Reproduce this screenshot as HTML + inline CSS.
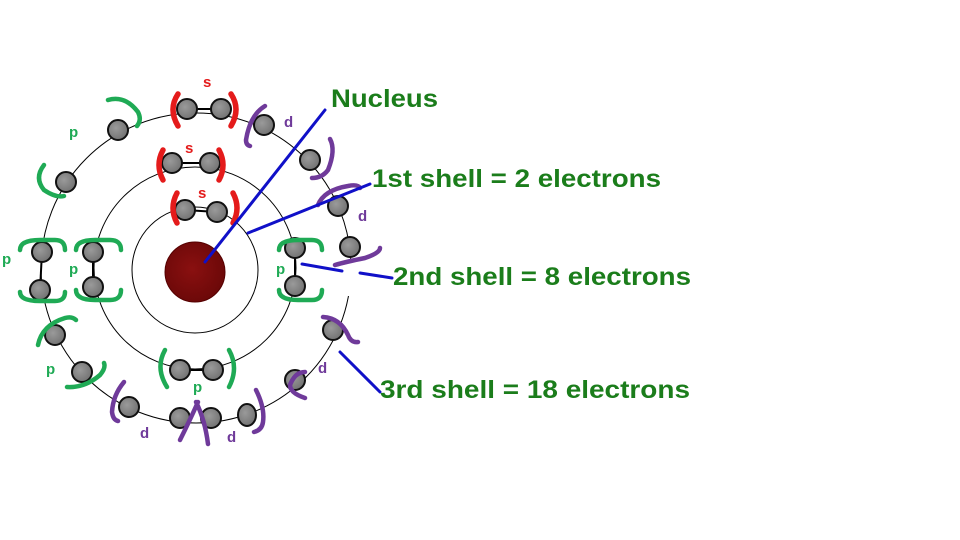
<!DOCTYPE html>
<html><head><style>body{margin:0;background:#fff}svg{display:block}</style></head>
<body>
<svg width="960" height="540" viewBox="0 0 960 540" xmlns="http://www.w3.org/2000/svg">
<defs>
<radialGradient id="g" cx="0.4" cy="0.4" r="0.7"><stop offset="0" stop-color="#9a9a9a"/><stop offset="1" stop-color="#6e6e6e"/></radialGradient>
<radialGradient id="n" cx="0.45" cy="0.45" r="0.6"><stop offset="0" stop-color="#8a1010"/><stop offset="1" stop-color="#6a0808"/></radialGradient>
</defs>
<rect width="960" height="540" fill="#fff"/>
<g fill="none" stroke="#000" stroke-width="1">
<circle cx="195" cy="270" r="63"/>
<circle cx="195" cy="268" r="101"/>
<circle cx="196" cy="268" r="155"/>
</g>
<rect x="338" y="262" width="16" height="34" fill="#fff"/>
<g stroke="#000" stroke-width="2">
<line x1="187" y1="109" x2="221" y2="109"/>
<line x1="172" y1="163" x2="210" y2="163"/>
<line x1="185" y1="210" x2="217" y2="212"/>
<line x1="42" y1="252" x2="40" y2="290"/>
<line x1="93" y1="252" x2="93" y2="287"/>
<line x1="295" y1="248" x2="295" y2="286"/>
<line x1="180" y1="370" x2="213" y2="370"/>
</g>
<circle cx="195" cy="272" r="30" fill="url(#n)" stroke="#500" stroke-width="1"/>
<g fill="url(#g)" stroke="#111" stroke-width="2">
<circle cx="187" cy="109" r="10"/><circle cx="221" cy="109" r="10"/>
<circle cx="264" cy="125" r="10"/><circle cx="310" cy="160" r="10"/>
<circle cx="338" cy="206" r="10"/><circle cx="350" cy="247" r="10"/>
<circle cx="333" cy="330" r="10"/><circle cx="295" cy="380" r="10"/>
<ellipse cx="247" cy="415" rx="9" ry="11"/>
<circle cx="211" cy="418" r="10"/><circle cx="180" cy="418" r="10"/>
<circle cx="129" cy="407" r="10"/><circle cx="82" cy="372" r="10"/>
<circle cx="55" cy="335" r="10"/><circle cx="40" cy="290" r="10"/>
<circle cx="42" cy="252" r="10"/><circle cx="66" cy="182" r="10"/>
<circle cx="118" cy="130" r="10"/>
<circle cx="172" cy="163" r="10"/><circle cx="210" cy="163" r="10"/>
<circle cx="93" cy="252" r="10"/><circle cx="93" cy="287" r="10"/>
<circle cx="295" cy="248" r="10"/><circle cx="295" cy="286" r="10"/>
<circle cx="180" cy="370" r="10"/><circle cx="213" cy="370" r="10"/>
<circle cx="185" cy="210" r="10"/><circle cx="217" cy="212" r="10"/>
</g>
<g fill="none" stroke="#e41b1b" stroke-width="5.5" stroke-linecap="round">
<path d="M178 94 Q168 109 178 126"/><path d="M231 94 Q241 109 231 126"/>
<path d="M163 150 Q155 165 163 180"/><path d="M219 150 Q227 165 219 180"/>
<path d="M177 193 Q169 208 177 223"/><path d="M233 193 Q241 208 233 223"/>
</g>
<g fill="none" stroke="#1faa55" stroke-width="4.5" stroke-linecap="round">
<path d="M108 100 Q125 95 138 112 Q142 120 137 126"/>
<path d="M44 165 Q34 178 44 190 Q56 198 64 196"/>
<path d="M20 250 Q20 240 40 240 L55 240 Q65 240 65 250"/>
<path d="M20 292 Q20 301 40 301 L55 301 Q65 301 65 292"/>
<path d="M76 250 Q76 240 95 240 L110 240 Q121 240 121 250"/>
<path d="M76 290 Q76 300 95 300 L110 300 Q121 300 121 290"/>
<path d="M279 250 Q279 240 298 240 L312 240 Q322 240 322 250"/>
<path d="M279 290 Q279 300 298 300 L312 300 Q322 300 322 290"/>
<path d="M38 345 Q42 325 65 318 Q72 316 76 320"/>
<path d="M67 387 Q85 388 100 375 Q106 368 104 363"/>
<path d="M165 350 Q155 368 167 387"/><path d="M229 350 Q239 368 229 387"/>
</g>
<g fill="none" stroke="#6f3a9a" stroke-width="4.5" stroke-linecap="round">
<path d="M265 106 Q250 115 246 140 Q246 145 250 146"/>
<path d="M330 139 Q336 150 328 170 Q322 178 312 178"/>
<path d="M318 205 Q324 190 348 186 Q358 184 360 188"/>
<path d="M335 265 Q345 262 365 258 Q380 253 380 248"/>
<path d="M323 317 Q340 318 348 335 Q351 343 358 342"/>
<path d="M305 372 Q295 372 290 385 Q290 393 305 398"/>
<path d="M124 382 Q113 395 112 412 Q113 420 118 421"/>
<path d="M198 402 Q190 420 180 440"/>
<path d="M196 402 Q205 420 208 444"/>
<path d="M256 390 Q265 408 263 422 Q262 430 254 432"/>
</g>
<g font-family="Liberation Sans, sans-serif" font-size="15" font-weight="bold">
<text x="203" y="87" fill="#e41b1b">s</text>
<text x="185" y="153" fill="#e41b1b">s</text>
<text x="198" y="198" fill="#e41b1b">s</text>
<g fill="#1faa55">
<text x="69" y="137">p</text><text x="2" y="264">p</text><text x="69" y="274">p</text>
<text x="276" y="274">p</text><text x="46" y="374">p</text><text x="193" y="392">p</text>
</g>
<g fill="#6f3a9a">
<text x="284" y="127">d</text><text x="358" y="221">d</text><text x="318" y="373">d</text>
<text x="140" y="438">d</text><text x="227" y="442">d</text>
</g>
</g>
<g stroke="#1010c8" stroke-width="3" stroke-linecap="round">
<line x1="205" y1="262" x2="325" y2="110"/>
<line x1="248" y1="233" x2="370" y2="184"/>
<line x1="302" y1="264" x2="342" y2="271"/>
<line x1="360" y1="273" x2="392" y2="278"/>
<line x1="340" y1="352" x2="380" y2="392"/>
</g>
<g font-family="Liberation Sans, sans-serif" font-weight="bold" font-size="25" fill="#1b7d1b">
<text x="331" y="107" textLength="107" lengthAdjust="spacingAndGlyphs">Nucleus</text>
<text x="372" y="187" textLength="289" lengthAdjust="spacingAndGlyphs">1st shell = 2 electrons</text>
<text x="393" y="285" textLength="298" lengthAdjust="spacingAndGlyphs">2nd shell = 8 electrons</text>
<text x="380" y="398" textLength="310" lengthAdjust="spacingAndGlyphs">3rd shell = 18 electrons</text>
</g>
</svg>
</body></html>
